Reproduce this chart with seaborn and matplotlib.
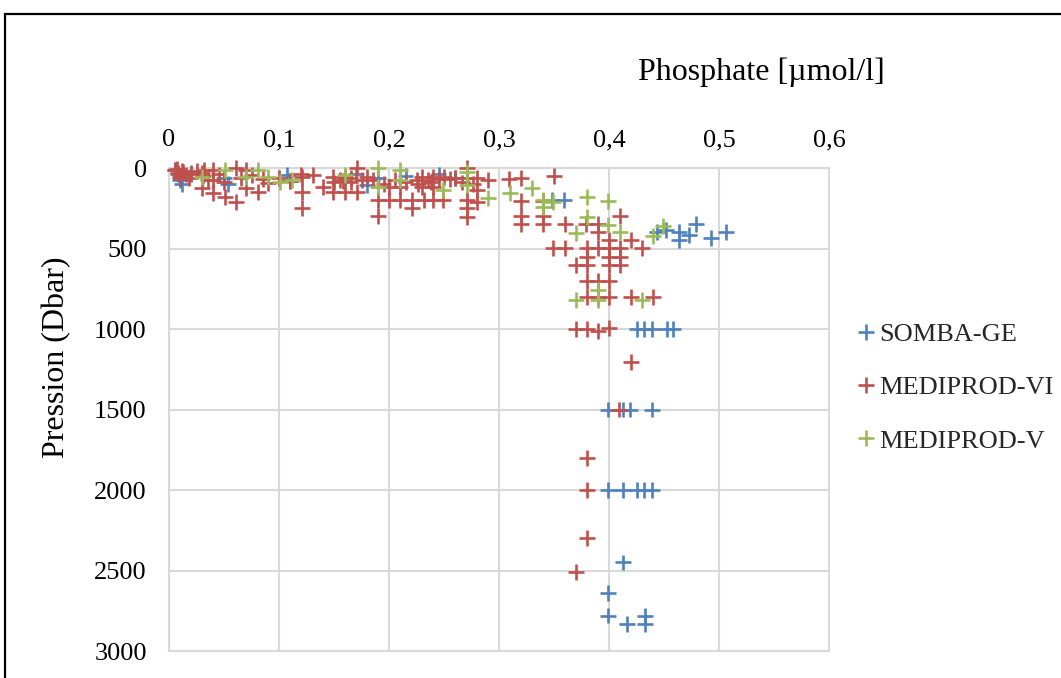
import numpy as np
import pandas as pd
import matplotlib
matplotlib.use("Agg")
import matplotlib.pyplot as plt
import matplotlib.patches as mpatches
from matplotlib.ticker import FuncFormatter
import seaborn as sns

# Phosphate [µmol/l] and pressure [dbar] for each cruise
somba_x = [0.005, 0.008, 0.012, 0.010, 0.020, 0.054, 0.050, 0.107, 0.110, 0.170,
           0.180, 0.190, 0.215, 0.245, 0.260,
           0.348, 0.359, 0.444, 0.452, 0.464, 0.464, 0.473, 0.479, 0.493, 0.506,
           0.425, 0.432, 0.439, 0.453, 0.458,
           0.399, 0.413, 0.419, 0.439,
           0.399, 0.413, 0.425, 0.432, 0.439,
           0.413, 0.399, 0.399, 0.416, 0.433, 0.433]
somba_p = [15, 40, 100, 75, 30, 100, 60, 43, 80, 40,
           106, 60, 50, 40, 60,
           199, 199, 400, 385, 398, 447, 416, 348, 435, 397,
           1000, 1000, 1000, 1000, 1000,
           1500, 1500, 1500, 1500,
           2000, 2000, 2000, 2000, 2000,
           2450, 2640, 2780, 2830, 2780, 2830]

mvi_x = [0.005, 0.008, 0.010, 0.012, 0.015, 0.018, 0.020, 0.025, 0.030, 0.031,
         0.030, 0.040, 0.040, 0.040, 0.045, 0.051, 0.050, 0.061, 0.061, 0.065,
         0.070, 0.070, 0.075, 0.081, 0.085, 0.090, 0.100, 0.110, 0.120, 0.121,
         0.121, 0.121, 0.131, 0.140, 0.149, 0.149, 0.155, 0.160, 0.160, 0.165,
         0.171, 0.171, 0.175, 0.180, 0.185, 0.190, 0.190, 0.195, 0.200, 0.200,
         0.205, 0.210, 0.210, 0.221, 0.221, 0.225, 0.230, 0.230, 0.232, 0.235,
         0.240, 0.240, 0.240, 0.245, 0.250, 0.249, 0.260, 0.271, 0.271, 0.271,
         0.271, 0.271, 0.280, 0.280, 0.280, 0.290, 0.309, 0.320, 0.350, 0.320,
         0.320, 0.320, 0.340, 0.340, 0.340, 0.360, 0.379, 0.390, 0.390, 0.410,
         0.400, 0.420,
         0.349, 0.360, 0.380, 0.390, 0.400, 0.410, 0.430,
         0.380, 0.400, 0.410,
         0.370, 0.380, 0.400, 0.410,
         0.380, 0.390, 0.400,
         0.380, 0.390, 0.400, 0.420, 0.440,
         0.370, 0.380, 0.390, 0.400,
         0.420, 0.409, 0.380, 0.380, 0.380, 0.370,
         0.007, 0.013, 0.010, 0.032, 0.035, 0.150, 0.158, 0.165, 0.215, 0.226,
         0.238, 0.255, 0.266, 0.276]
mvi_p = [10, 30, 50, 20, 40, 60, 35, 20, 30, 50,
         124, 10, 75, 155, 40, 180, 90, 0, 211, 60,
         12, 124, 45, 149, 70, 93, 60, 82, 40, 56,
         149, 248, 43, 118, 56, 149, 75, 56, 149, 90,
         0, 149, 75, 56, 75, 199, 298, 100, 118, 199,
         75, 118, 199, 199, 248, 75, 56, 118, 199, 75,
         56, 118, 199, 70, 56, 199, 60, 0, 62, 199,
         248, 304, 62, 137, 211, 75, 68, 62, 50, 205,
         298, 348, 205, 298, 348, 348, 348, 348, 397, 298,
         447, 447,
         497, 497, 497, 497, 497, 497, 497,
         550, 550, 550,
         600, 600, 600, 600,
         700, 700, 700,
         800, 800, 800, 800, 800,
         1000, 1000, 1015, 995,
         1205, 1500, 1800, 2000, 2300, 2510,
         5, 25, 65, 15, 75, 90, 80, 60, 90, 100,
         85, 70, 90, 100]

mv_x = [0.030, 0.051, 0.070, 0.081, 0.090, 0.101, 0.112, 0.160, 0.190, 0.190,
        0.210, 0.210, 0.249, 0.271, 0.271, 0.290, 0.310, 0.330, 0.340, 0.340,
        0.349, 0.380, 0.399, 0.380, 0.399, 0.370, 0.410, 0.440, 0.449,
        0.390, 0.370, 0.390, 0.430]
mv_p = [56, 12, 56, 12, 56, 87, 75, 43, 0, 118,
        12, 75, 137, 25, 106, 186, 155, 124, 199, 240,
        211, 180, 205, 304, 354, 404, 397, 422, 360,
        758, 820, 820, 820]

series = ["SOMBA-GE", "MEDIPROD-VI", "MEDIPROD-V"]
colors = ["#4F81BD", "#C0504D", "#9BBB59"]

df = pd.concat([
    pd.DataFrame({"phosphate": somba_x, "pression": somba_p, "campagne": series[0]}),
    pd.DataFrame({"phosphate": mvi_x, "pression": mvi_p, "campagne": series[1]}),
    pd.DataFrame({"phosphate": mv_x, "pression": mv_p, "campagne": series[2]}),
], ignore_index=True)

sns.set_theme(style="whitegrid")
plt.rcParams["font.family"] = ["Liberation Serif", "DejaVu Serif"]

W, H = 1061, 678
fig = plt.figure(figsize=(W / 100, H / 100), dpi=100)
ax = fig.add_axes([169 / W, 1 - 651 / H, 660 / W, 483 / H])

sns.scatterplot(data=df, x="phosphate", y="pression", hue="campagne",
                hue_order=series, palette=colors, marker="+", s=130,
                linewidth=1.9, ax=ax, legend=True, clip_on=False, zorder=3)

ax.set_xlim(0, 0.6)
ax.set_ylim(3000, 0)
ax.set_xticks(np.arange(0, 0.61, 0.1))
ax.set_yticks(np.arange(0, 3001, 500))
comma = FuncFormatter(lambda v, _: ("%g" % round(v, 2)).replace(".", ","))
ax.xaxis.set_major_formatter(comma)
ax.xaxis.tick_top()
ax.xaxis.set_label_position("top")
ax.tick_params(axis="both", length=0, labelsize=19, colors="black")
ax.tick_params(axis="x", pad=12)
ax.tick_params(axis="y", pad=16)

ax.grid(True, color="#d9d9d9", linewidth=1.5)
for sp in ax.spines.values():
    sp.set_color("#d9d9d9")
    sp.set_linewidth(1.5)

ax.set_xlabel("Phosphate [µmol/l]", fontsize=23, color="black")
ax.xaxis.set_label_coords((761 - 169) / 660, (651 - 72) / 483)
ax.xaxis.label.set_verticalalignment("center")
ax.set_ylabel("Pression (Dbar)", fontsize=23, color="black")
ax.yaxis.set_label_coords((57 - 169) / 660, (651 - 357) / 483)
ax.yaxis.label.set_verticalalignment("center")

handles, labels = ax.get_legend_handles_labels()
for h in handles:
    h.set_linewidth(1.7)
ax.legend(handles, labels, loc="upper left",
          bbox_to_anchor=(859 / W, 1 - 323 / H), bbox_transform=fig.transFigure,
          frameon=False, fontsize=19, handlelength=0.5, handletextpad=0.25,
          labelspacing=1.12, borderpad=0, borderaxespad=0)

# outer chart frame
fig.patches.append(mpatches.Rectangle((5 / W, -0.2), 2.0, 1 - 14 / H + 0.2,
                                      transform=fig.transFigure, fill=False,
                                      edgecolor="black", linewidth=1.6))

fig.savefig("out.png", dpi=100)
